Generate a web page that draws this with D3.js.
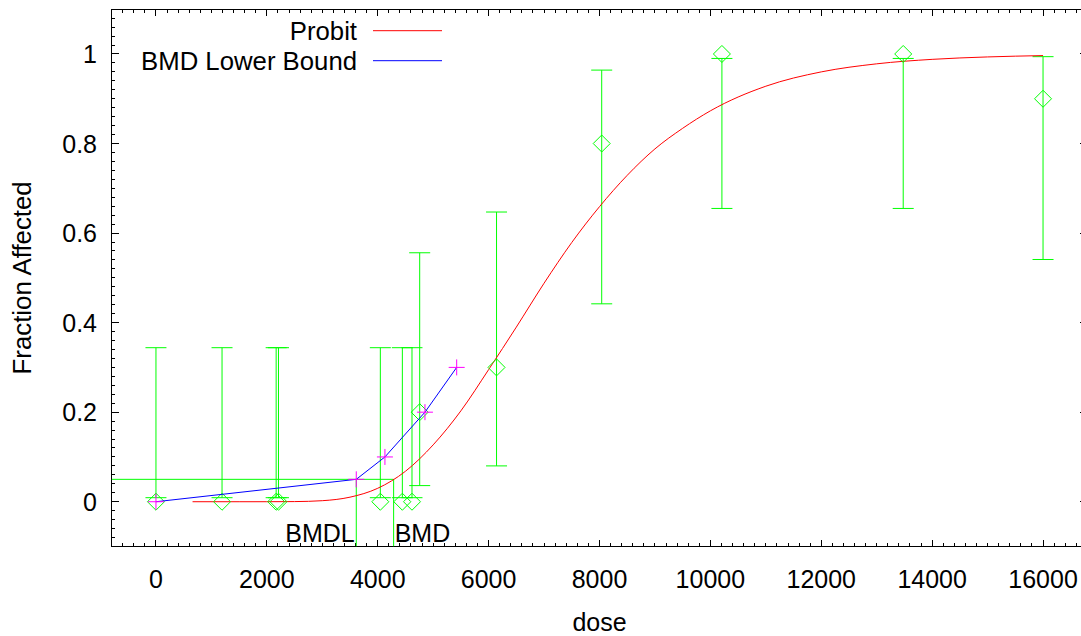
<!DOCTYPE html>
<html>
<head>
<meta charset="utf-8">
<script src="https://cdn.jsdelivr.net/npm/d3@7"></script>
<style>
  html, body { margin: 0; padding: 0; background: #fff; }
  svg { display: block; }
  text { font-family: "Liberation Sans", Arial, Helvetica, sans-serif; fill: #000; }
</style>
</head>
<body>
<svg id="chart" width="1081" height="636"></svg>
<script>
// ---------------- data ----------------
const doses    = [0, 1192, 2168, 2210, 4047, 4444, 4618, 4757, 6143, 8040, 10208, 13478, 16000];
const observed = [0, 0, 0, 0, 0, 0, 0, 0.2, 0.3, 0.8, 1.0, 1.0, 0.9];
const lowerCI  = [0.009, 0.009, 0.009, 0.009, 0.009, 0.009, 0.009, 0.036, 0.080, 0.442, 0.655, 0.655, 0.541];
const upperCI  = [0.344, 0.344, 0.344, 0.344, 0.344, 0.344, 0.344, 0.556, 0.647, 0.964, 0.990, 0.990, 0.994];

const probitDose = [660, 1500, 2000, 2500, 3000, 3500, 4000, 4500, 5000, 5500, 6000, 6500, 7000, 7500, 8000, 8500, 9000, 9500, 10000, 11000, 12000, 13000, 14000, 15000, 16000];
const probitFrac = [0, 0, 0.00002, 0.0003, 0.0023, 0.0102, 0.030, 0.068, 0.127, 0.203, 0.295, 0.390, 0.488, 0.579, 0.659, 0.729, 0.788, 0.834, 0.873, 0.928, 0.960, 0.978, 0.988, 0.9934, 0.9964];

const bmdlDose = [0, 3613, 4130, 4852, 5424];
const bmdlFrac = [0, 0.05, 0.10, 0.20, 0.30];

const bmrLevel = 0.05;
const bmdlValue = 3613;
const bmdValue = 4287;

const doseTicks = [0, 2000, 4000, 6000, 8000, 10000, 12000, 14000, 16000];
const fracTicks = [0, 0.2, 0.4, 0.6, 0.8, 1];
const fracTickLabels = ["0", "0.2", "0.4", "0.6", "0.8", "1"];

const legendLabels = ["Probit", "BMD Lower Bound"];
const legendColors = ["#ff0000", "#0000ff"];

// ---------------- layout ----------------
const svg = d3.select("#chart");
const x = d3.scaleLinear().domain([-800, 16800]).range([111.6, 1087.4]);
const y = d3.scaleLinear().domain([-0.1, 1.1]).range([546.5, 9.2]);
const [x0, x1] = x.range();
const [y0, y1] = y.range();

const green = "#00ff00", magenta = "#ff00ff";
const FS = 25;

function label(g, tx, ty, str, anchor, sx, rot, fs) {
  const t = g.append("g").attr("transform", `translate(${tx},${ty})` + (rot ? ` rotate(${rot})` : "") + ` scale(${sx || 1},1)`);
  t.append("text").attr("text-anchor", anchor).attr("font-size", fs || FS).text(str);
  return t;
}

// minor / major ticks (gnuplot style, inward, mirrored)
const minorX = d3.range(-800, 16801, 200).filter(v => v % 2000 !== 0);
const minorY = d3.range(-10, 111, 2).map(v => v / 100).filter(v => Math.round(v * 100) % 20 !== 0);

const axes = svg.append("g").attr("stroke", "#000").attr("stroke-width", 1).attr("shape-rendering", "crispEdges");
function tickLines(vals, len, side) {
  vals.forEach(v => {
    if (side === "bottom") axes.append("line").attr("x1", x(v)).attr("x2", x(v)).attr("y1", y0).attr("y2", y0 - len);
    if (side === "top") axes.append("line").attr("x1", x(v)).attr("x2", x(v)).attr("y1", y1).attr("y2", y1 + len);
    if (side === "left") axes.append("line").attr("y1", y(v)).attr("y2", y(v)).attr("x1", x0).attr("x2", x0 + len);
    if (side === "right") axes.append("line").attr("y1", y(v)).attr("y2", y(v)).attr("x1", x1).attr("x2", x1 - len);
  });
}
tickLines(doseTicks, 7, "bottom"); tickLines(minorX, 3.5, "bottom");
tickLines(doseTicks, 7, "top");    tickLines(minorX, 3.5, "top");
tickLines(fracTicks, 7, "left");   tickLines(minorY, 3.5, "left");
tickLines(fracTicks, 7, "right");  tickLines(minorY, 3.5, "right");

axes.append("rect").attr("x", x0).attr("y", y1).attr("width", x1 - x0).attr("height", y0 - y1).attr("fill", "none");

// tick labels
const lab = svg.append("g");
doseTicks.forEach(v => label(lab, x(v), 588, String(v), "middle", 1));
fracTicks.forEach((v, i) => label(lab, 97, y(v) + 9, fracTickLabels[i], "end", 1));
label(lab, (x0 + x1) / 2, 631, "dose", "middle", 1);
label(lab, 31, (y0 + y1) / 2, "Fraction Affected", "middle", 1, -90, 25.8);

// plot contents clipped to the frame
svg.append("clipPath").attr("id", "clip").append("rect").attr("x", x0).attr("y", y1).attr("width", x1 - x0).attr("height", y0 - y1);
const plot = svg.append("g").attr("clip-path", "url(#clip)");

// BMR / BMDL / BMD reference lines
plot.append("line").attr("x1", x0).attr("x2", x(bmdValue)).attr("y1", y(bmrLevel)).attr("y2", y(bmrLevel)).attr("stroke", green);
plot.append("line").attr("x1", x(bmdlValue)).attr("x2", x(bmdlValue)).attr("y1", y(bmrLevel)).attr("y2", y0).attr("stroke", green);
plot.append("line").attr("x1", x(bmdValue)).attr("x2", x(bmdValue)).attr("y1", y(bmrLevel)).attr("y2", y0).attr("stroke", green);

// error bars
const bars = plot.append("g").attr("stroke", green).attr("fill", "none");
doses.forEach((d, i) => {
  const cx = x(d);
  bars.append("line").attr("x1", cx).attr("x2", cx).attr("y1", y(lowerCI[i])).attr("y2", y(upperCI[i]));
  bars.append("line").attr("x1", cx - 10.5).attr("x2", cx + 10.5).attr("y1", y(lowerCI[i])).attr("y2", y(lowerCI[i]));
  bars.append("line").attr("x1", cx - 10.5).attr("x2", cx + 10.5).attr("y1", y(upperCI[i])).attr("y2", y(upperCI[i]));
});

// probit curve
const pts = probitDose.map((d, i) => [x(d), y(probitFrac[i])]);
plot.append("path").attr("d", d3.line().curve(d3.curveMonotoneX)(pts)).attr("fill", "none").attr("stroke", "#ff0000").attr("stroke-width", 1);

// diamonds
const dm = plot.append("g").attr("stroke", green).attr("fill", "none");
doses.forEach((d, i) => {
  const cx = x(d), cy = y(observed[i]), r = 8.5;
  dm.append("path").attr("d", `M${cx - r},${cy}L${cx},${cy - r}L${cx + r},${cy}L${cx},${cy + r}Z`);
});

// BMD lower bound line + markers
const bpts = bmdlDose.map((d, i) => [x(d), y(bmdlFrac[i])]);
plot.append("path").attr("d", d3.line()(bpts)).attr("fill", "none").attr("stroke", "#0000ff").attr("stroke-width", 1);
const mk = plot.append("g").attr("stroke", magenta);
bpts.forEach(([px, py]) => {
  mk.append("line").attr("x1", px - 8).attr("x2", px + 8).attr("y1", py).attr("y2", py);
  mk.append("line").attr("x1", px).attr("x2", px).attr("y1", py - 8).attr("y2", py + 8);
});

// BMDL / BMD labels
label(svg, x(bmdlValue) - 1.5, 541.5, "BMDL", "end", 1);
label(svg, x(bmdValue) + 1, 541.5, "BMD", "start", 1);

// legend
legendLabels.forEach((s, i) => {
  const ly = 30.7 + i * 30;
  label(svg, 357, ly + 9, s, "end", 1.03);
  svg.append("line").attr("x1", 373).attr("x2", 442).attr("y1", ly).attr("y2", ly).attr("stroke", legendColors[i]);
});
</script>
</body>
</html>
